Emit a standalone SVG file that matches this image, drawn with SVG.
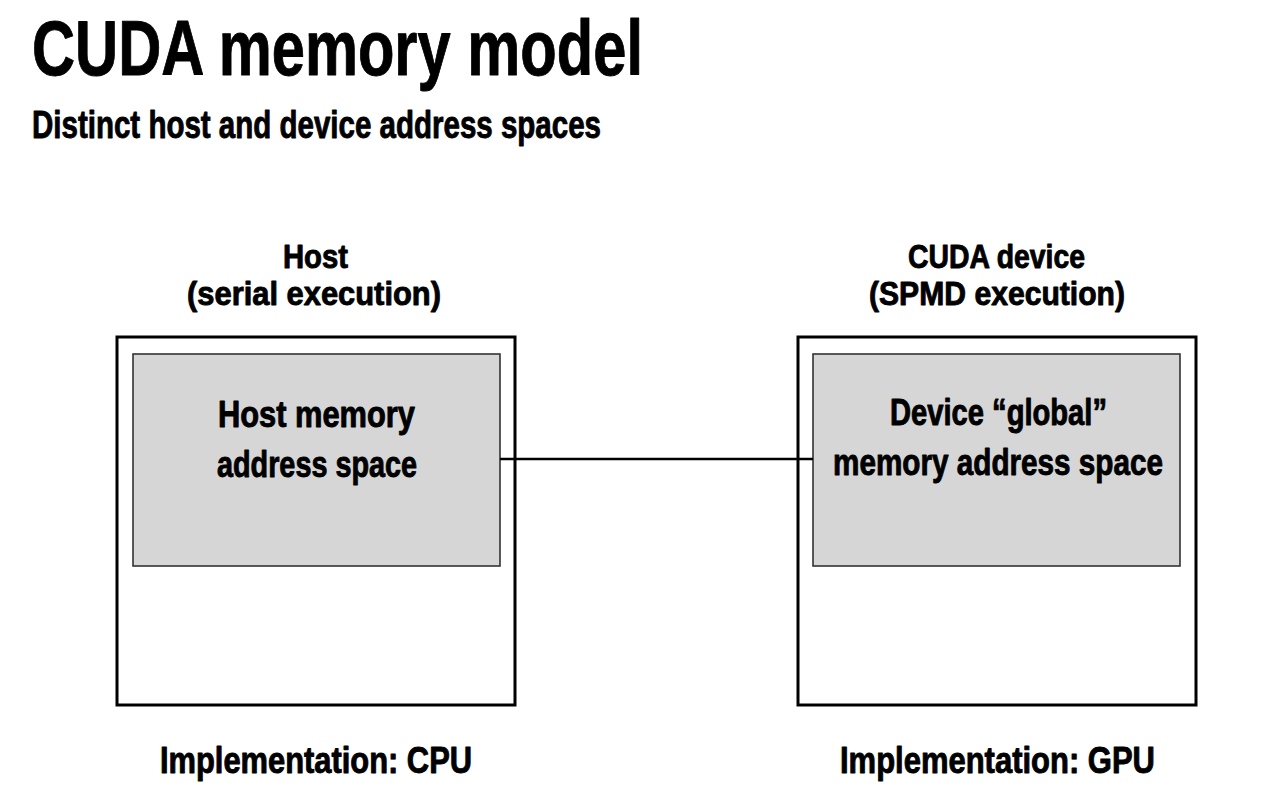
<svg xmlns="http://www.w3.org/2000/svg" width="1265" height="809" viewBox="0 0 1265 809">
<style>
text{font-family:"Liberation Sans","DejaVu Sans",sans-serif;font-weight:bold;fill:#000;stroke:#000;stroke-width:0.9;stroke-linejoin:round}
.outer{fill:#fff;stroke:#000;stroke-width:3}
.inner{fill:#d6d6d6;stroke:#333;stroke-width:1.6}
.lbl{font-size:33px}
.mem{font-size:36px}
.impl{font-size:36px}
.conn{stroke:#000;stroke-width:2.5;fill:none}
</style>
<rect width="1265" height="809" fill="#fff"/>
<text x="32" y="75" font-size="77" stroke-width="2" textLength="611" lengthAdjust="spacingAndGlyphs">CUDA memory model</text>
<text x="32" y="138" font-size="39" textLength="569" lengthAdjust="spacingAndGlyphs">Distinct host and device address spaces</text>

<g id="host">
<text class="lbl" x="283" y="268" textLength="65" lengthAdjust="spacingAndGlyphs">Host</text>
<text class="lbl" x="187" y="305" textLength="254" lengthAdjust="spacingAndGlyphs">(serial execution)</text>
<rect class="outer" x="117" y="337" width="398" height="368"/>
</g>
<g id="host-memory">
<rect class="inner" x="133" y="354" width="367" height="212"/>
<text class="mem" x="218" y="427" textLength="197" lengthAdjust="spacingAndGlyphs">Host memory</text>
<text class="mem" x="217" y="477" textLength="200" lengthAdjust="spacingAndGlyphs">address space</text>
</g>
<g id="host-impl">
<text class="impl" x="160" y="773" textLength="312" lengthAdjust="spacingAndGlyphs">Implementation: CPU</text>
</g>

<g id="device">
<text class="lbl" x="908" y="268" textLength="177" lengthAdjust="spacingAndGlyphs">CUDA device</text>
<text class="lbl" x="869" y="305" textLength="256" lengthAdjust="spacingAndGlyphs">(SPMD execution)</text>
<rect class="outer" x="798" y="337" width="398" height="368"/>
</g>
<g id="device-memory">
<rect class="inner" x="813" y="354" width="367" height="212"/>
<text class="mem" x="890" y="425" textLength="217" lengthAdjust="spacingAndGlyphs">Device “global”</text>
<text class="mem" x="833" y="475" textLength="330" lengthAdjust="spacingAndGlyphs">memory address space</text>
</g>
<g id="device-impl">
<text class="impl" x="840" y="773" textLength="315" lengthAdjust="spacingAndGlyphs">Implementation: GPU</text>
</g>

<g id="connectors">
<line class="conn" x1="500" y1="459" x2="813" y2="459"/>
</g>
</svg>
